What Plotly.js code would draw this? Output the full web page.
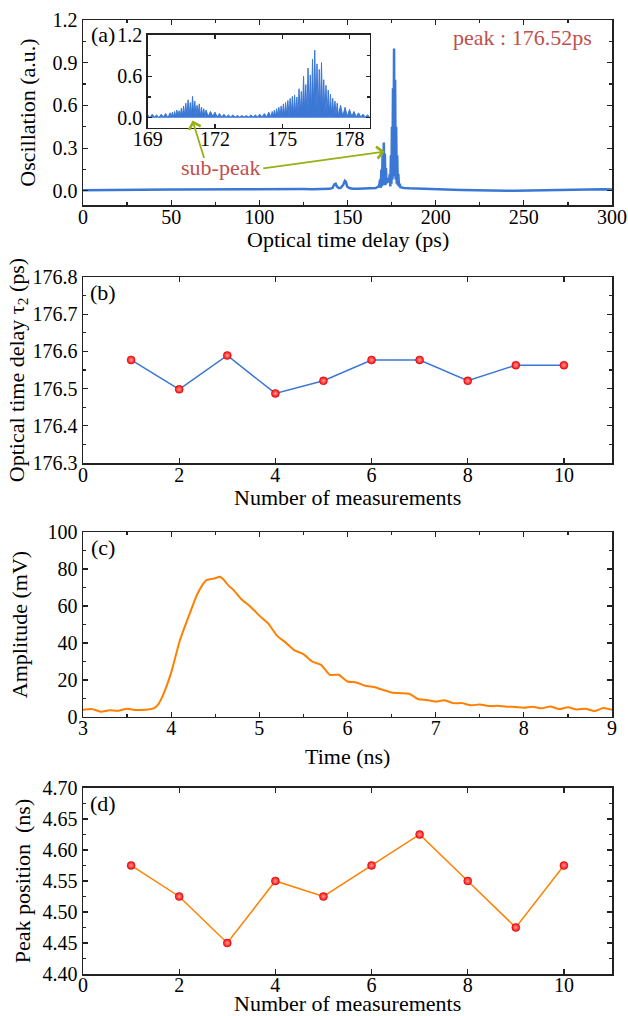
<!DOCTYPE html>
<html>
<head>
<meta charset="utf-8">
<script src="https://cdn.plot.ly/plotly-3.0.1.min.js"></script>
<style>html,body{margin:0;padding:0;background:#fff;}#chart{width:628px;height:1016px;}</style>
</head>
<body>
<div id="chart"></div>
<script>
// ---------- Panel (a): main trace ----------
const delayPs = [0,5,10,15,20,25,30,35,40,45,50,55,60,65,70,75,80,85,90,95,100,105,110,115,120,125,130,135,
  138,140,141.5,142.5,143.3,144,145,146,147.5,148.5,149,149.8,151,153,156,160,164,166,167.5,168,168.5,168.8,
  169.2,169.5,169.9,170.2,170.6,170.9,171.2,171.5,171.8,172.1,172.5,173,173.5,174,174.3,174.6,174.9,175.2,
  175.5,175.8,176.1,176.4,176.7,177,177.3,177.6,177.9,178.2,178.5,178.8,179.2,179.6,180,182,185,190,195,200,
  205,210,215,220,225,230,235,240,245,250,255,260,265,270,275,280,285,290,295,300];
const oscillation = [0.005,0.006,0.007,0.006,0.008,0.007,0.008,0.009,0.008,0.009,0.010,0.009,0.010,0.011,0.010,0.011,0.010,0.011,0.012,0.011,0.012,0.011,0.012,0.013,0.012,0.013,0.012,0.014,
  0.015,0.014,0.02,0.045,0.05,0.03,0.02,0.02,0.04,0.07,0.065,0.03,0.02,0.015,0.015,0.015,0.016,0.02,0.03,0.04,0.08,0.02,
  0.15,0.03,0.25,0.04,0.34,0.05,0.26,0.04,0.16,0.05,0.09,0.07,0.06,0.12,0.03,0.25,0.05,0.45,
  0.08,0.72,0.10,1.00,0.10,0.78,0.08,0.45,0.05,0.25,0.04,0.12,0.03,0.05,0.025,0.02,0.018,0.015,0.014,0.012,
  0.010,0.008,0.006,0.004,0.002,0.001,0.0,0.0,0.001,0.002,0.004,0.006,0.008,0.009,0.010,0.010,0.011,0.010,0.011,0.010];

// ---------- Panel (a): inset trace ----------
const insetPs = [169.0,169.1,169.2,169.3,169.4,169.5,169.6,169.7,169.8,169.9,170.0,
  170.05,170.1,170.15,170.2,170.25,170.3,170.35,170.4,170.45,170.5,170.55,170.6,170.65,170.7,170.75,170.8,170.85,170.9,170.95,171.0,171.05,171.1,171.15,171.2,171.25,171.3,171.35,171.4,171.45,171.5,171.55,171.6,
  171.7,171.8,171.9,172.0,172.1,172.2,172.3,172.4,172.5,172.6,172.7,172.8,172.9,173.0,173.1,173.2,173.3,173.4,173.5,173.6,173.7,173.8,173.9,174.0,174.1,174.2,174.3,174.4,174.5,
  174.55,174.6,174.65,174.7,174.75,174.8,174.85,174.9,174.95,175.0,175.05,175.1,175.15,175.2,175.25,175.3,175.35,175.4,175.45,175.5,175.55,175.6,175.65,175.7,175.75,175.8,175.85,175.9,175.95,176.0,176.05,176.1,176.15,176.2,176.25,176.3,176.35,176.4,176.45,176.5,176.55,176.6,176.65,176.7,176.75,176.8,176.85,176.9,176.95,177.0,177.05,177.1,177.15,177.2,177.25,177.3,177.35,177.4,177.45,177.5,
  177.6,177.7,177.8,177.9,178.0,178.1,178.2,178.3,178.4,178.5,178.6,178.7,178.8,178.9];
const insetOsc = [0.04,0.00,0.05,0.01,0.04,0.00,0.05,0.01,0.06,0.00,0.07,
  0.01,0.08,0.01,0.09,0.02,0.11,0.02,0.10,0.01,0.14,0.02,0.17,0.03,0.21,0.02,0.26,0.04,0.22,0.03,0.31,0.05,0.24,0.03,0.18,0.04,0.20,0.02,0.15,0.03,0.13,0.02,0.11,
  0.02,0.09,0.02,0.08,0.01,0.06,0.01,0.05,0.01,0.04,0.01,0.04,0.01,0.03,0.01,0.03,0.01,0.03,0.01,0.04,0.01,0.04,0.01,0.05,0.01,0.06,0.01,0.08,0.01,
  0.09,0.02,0.11,0.02,0.13,0.03,0.15,0.02,0.17,0.03,0.20,0.02,0.22,0.04,0.25,0.03,0.28,0.05,0.31,0.04,0.33,0.05,0.30,0.04,0.42,0.06,0.38,0.05,0.60,0.07,0.48,0.06,0.72,0.08,0.62,0.07,0.85,0.10,0.98,0.09,0.78,0.05,0.70,0.08,0.80,0.07,0.55,0.06,0.47,0.05,0.40,0.04,0.34,0.04,0.28,0.03,0.24,0.03,0.21,0.03,
  0.18,0.02,0.15,0.02,0.12,0.02,0.09,0.01,0.07,0.01,0.05,0.01,0.04,0.01];

// ---------- Panel (b) ----------
const measurementsB = [1,2,3,4,5,6,7,8,9,10];
const delayTau2 = [176.577,176.498,176.589,176.487,176.521,176.577,176.577,176.521,176.563,176.563];

// ---------- Panel (c) ----------
const timeNs = [3.0,3.1,3.2,3.3,3.4,3.5,3.6,3.7,3.8,3.85,3.9,4.0,4.1,4.2,4.3,4.4,4.5,4.55,4.6,4.65,4.7,4.8,4.9,5.0,5.1,5.2,5.3,5.4,5.5,5.6,5.7,5.8,5.9,6.0,6.1,6.2,6.3,6.4,6.5,6.6,6.7,6.8,6.9,7.0,7.1,7.2,7.3,7.4,7.5,7.6,7.7,7.8,7.9,8.0,8.1,8.2,8.3,8.4,8.5,8.6,8.7,8.8,8.9,9.0];
const amplitudeMv = [3.9,4.3,2.9,3.6,3.4,4.5,3.8,3.9,4.7,6.6,11,24,41.6,54.6,66.8,74,75,75.8,74,71,69,63.5,59.6,54.8,50.6,44,40.2,36,34,30,28.2,22.8,22.8,19.2,18.7,16.9,16.2,14.7,13.3,12.9,12.6,9.7,9.2,8.4,9.0,7.5,7.5,6.3,6.8,5.9,6.1,5.6,5.4,5.0,5.6,4.7,5.7,4.3,5.2,4.1,4.5,3.2,4.8,3.9];

// ---------- Panel (d) ----------
const measurementsD = [1,2,3,4,5,6,7,8,9,10];
const peakPosNs = [4.575,4.525,4.45,4.55,4.525,4.575,4.625,4.55,4.475,4.575];

const FONT = 'Liberation Serif';
const AX = '#222';
const blue = '#3b77d4';
const orange = '#ff8000';
const redTxt = '#c0504d';
const arrowCol = '#98b014';

function axis(extra){
  return Object.assign({
    showline:true, linecolor:AX, linewidth:1.5, mirror:'ticks',
    ticks:'inside', ticklen:5, tickwidth:1.2, tickcolor:AX,
    showgrid:false, zeroline:false,
    tickfont:{family:FONT, size:20, color:'#000'}
  }, extra);
}
function xaxis(extra){ return axis(Object.assign({ticklabelstandoff:-7}, extra)); }
function ytitle(t, s){ return {text:t, font:{family:FONT, size:22, color:'#000'}, standoff:s}; }
function note(xref, yref, x, y, text, color){
  return {xref:xref, yref:yref, x:x, y:y, xanchor:'center', yanchor:'middle', text:text, showarrow:false,
          font:{family:FONT, size:22, color:color}};
}

const marker = {color:'#ff0a0a', size:8, line:{color:'#c00000', width:0.5}, gradient:{type:'radial', color:'#ff9a9a'}};

const traces = [
  {x:delayPs, y:oscillation, xaxis:'x', yaxis:'y', mode:'lines', line:{color:blue, width:2.5}},
  {x:measurementsB, y:delayTau2, xaxis:'x2', yaxis:'y2', mode:'lines+markers', line:{color:blue, width:1.5}, marker:marker},
  {x:timeNs, y:amplitudeMv, xaxis:'x3', yaxis:'y3', mode:'lines', line:{color:orange, width:2, shape:'spline', smoothing:0.6}},
  {x:measurementsD, y:peakPosNs, xaxis:'x4', yaxis:'y4', mode:'lines+markers', line:{color:orange, width:1.5}, marker:marker},
  {x:insetPs, y:insetOsc, xaxis:'x5', yaxis:'y5', mode:'lines', line:{color:blue, width:1}, fill:'tozeroy', fillcolor:blue}
];

const layout = {
  width:628, height:1016,
  margin:{l:83, r:16, t:20, b:42},
  paper_bgcolor:'#fff', plot_bgcolor:'#fff',
  showlegend:false,
  font:{family:FONT, color:'#000'},
  xaxis: xaxis({domain:[0,1], anchor:'y', range:[0,300], dtick:50, tick0:0,
    minor:{ticks:'inside', ticklen:3, dtick:25, tickcolor:AX}}),
  yaxis: axis({domain:[0.806,1], anchor:'x', range:[-0.1,1.2], dtick:0.3, tick0:0, tickformat:'.1f',
    minor:{ticks:'inside', ticklen:3, dtick:0.15, tick0:0, tickcolor:AX},
    title:ytitle('Oscillation (a.u.)', 11)}),
  xaxis2: xaxis({domain:[0,1], anchor:'y2', range:[0,11], dtick:2, tick0:0}),
  yaxis2: axis({domain:[0.5356,0.7306], anchor:'x2', range:[176.3,176.8], dtick:0.1, tick0:176.3, tickformat:'.1f',
    minor:{ticks:'inside', ticklen:3, dtick:0.05, tick0:176.3, tickcolor:AX},
    title:ytitle('Optical time delay τ<sub>2</sub> (ps)', 2)}),
  xaxis3: xaxis({domain:[0,1], anchor:'y3', range:[3,9], dtick:1, tick0:3,
    minor:{ticks:'inside', ticklen:3, dtick:0.5, tickcolor:AX}}),
  yaxis3: axis({domain:[0.2694,0.4633], anchor:'x3', range:[0,100], dtick:20, tick0:0,
    minor:{ticks:'inside', ticklen:3, dtick:10, tickcolor:AX},
    title:ytitle('Amplitude (mV)', 14)}),
  xaxis4: xaxis({domain:[0,1], anchor:'y4', range:[0,11], dtick:2, tick0:0, ticklabelstandoff:-8}),
  yaxis4: axis({domain:[0,0.195], anchor:'x4', range:[4.40,4.70], dtick:0.05, tick0:4.4, tickformat:'.2f',
    minor:{ticks:'inside', ticklen:3, dtick:0.025, tick0:4.4, tickcolor:AX},
    title:ytitle('Peak position  (ns)', 6)}),
  xaxis5: xaxis({domain:[0.1223,0.542], anchor:'y5', range:[169,178.9], dtick:3, tick0:169, ticklen:4}),
  yaxis5: axis({domain:[0.8868,0.9843], anchor:'x5', range:[-0.15,1.2], dtick:0.6, tick0:0, tickformat:'.1f', ticklen:4,
    minor:{ticks:'inside', ticklen:3, dtick:0.3, tick0:0, tickcolor:AX}}),
  annotations:[
    note('paper','paper',0.5,0.7694,'Optical time delay (ps)','#000'),
    note('paper','paper',0.5,0.4995,'Number of measurements','#000'),
    note('paper','paper',0.5,0.2275,'Time (ns)','#000'),
    note('paper','paper',0.5,-0.0312,'Number of measurements','#000'),
    note('x domain','y domain',0.037,0.924,'(a)','#000'),
    note('x2 domain','y2 domain',0.037,0.915,'(b)','#000'),
    note('x3 domain','y3 domain',0.037,0.915,'(c)','#000'),
    note('x4 domain','y4 domain',0.037,0.915,'(d)','#000'),
    note('x domain','y domain',0.831,0.903,'peak : 176.52ps',redTxt),
    note('x domain','y domain',0.260,0.205,'sub-peak',redTxt),
    {xref:'x5', yref:'y5', x:171.0, y:-0.04, ax:12, ay:39, text:'', showarrow:true, arrowhead:4, arrowsize:1.3, arrowwidth:1.8, arrowcolor:arrowCol},
    {xref:'x', yref:'y', x:171.1, y:0.276, ax:-123, ay:17, text:'', showarrow:true, arrowhead:4, arrowsize:1.3, arrowwidth:1.8, arrowcolor:arrowCol}
  ]
};

Plotly.newPlot('chart', traces, layout, {staticPlot:true, displayModeBar:false});
</script>
</body>
</html>
